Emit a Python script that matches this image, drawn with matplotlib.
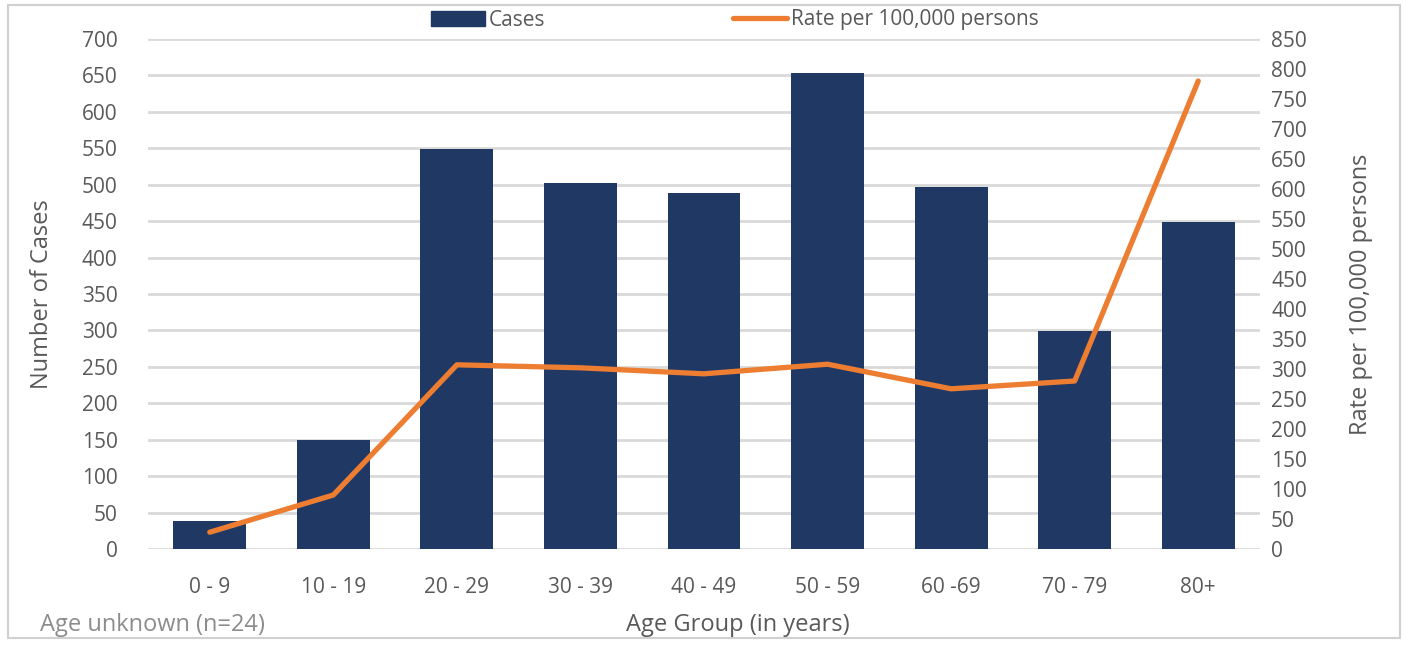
import matplotlib.pyplot as plt
from matplotlib.patches import Rectangle
from matplotlib.lines import Line2D

age_groups = ['0 - 9', '10 - 19', '20 - 29', '30 - 39', '40 - 49',
              '50 - 59', '60 -69', '70 - 79', '80+']
cases = [39, 150, 549, 502, 488, 654, 497, 299, 449]
rate = [28, 90, 307, 302, 292, 308, 267, 280, 780]

BAR = '#203864'
LINE = '#ED7D31'
TXT = '#595959'
GRID = '#D9D9D9'

plt.rcParams['font.family'] = ['Open Sans', 'DejaVu Sans']

fig = plt.figure(figsize=(14.08, 6.45), dpi=100)
ax = fig.add_axes([148 / 1408, 1 - 549 / 645, 1112 / 1408, 510 / 645])
ax2 = ax.twinx()

x = range(len(age_groups))
ax.bar(x, cases, width=0.59, color=BAR, zorder=2)
ax2.plot(x, rate, color=LINE, linewidth=3.8, solid_capstyle='round', zorder=3)

ax.set_xlim(-0.5, len(age_groups) - 0.5)
ax.set_ylim(0, 700)
ax.set_yticks(range(0, 701, 50))
ax2.set_ylim(0, 850)
ax2.set_yticks(range(0, 851, 50))
ax.set_xticks(list(x))
ax.set_xticklabels(age_groups)

ax.yaxis.grid(True, color=GRID, linewidth=2, zorder=0)
ax.set_axisbelow(True)
for a in (ax, ax2):
    for s in a.spines.values():
        s.set_visible(False)
    a.tick_params(length=0, labelsize=15, colors=TXT)
ax.tick_params(axis='x', pad=20)
ax.tick_params(axis='y', pad=22)
ax2.tick_params(axis='y', pad=8)

ax.set_ylabel('Number of Cases', fontsize=17, color=TXT, labelpad=20)
ax2.set_ylabel('Rate per 100,000 persons', fontsize=17, color=TXT, labelpad=30)

fig.text(738 / 1408, 1 - 625 / 645, 'Age Group (in years)', fontsize=17,
         color=TXT, ha='center', va='center')
fig.text(40 / 1408, 1 - 625 / 645, 'Age unknown (n=24)', fontsize=17,
         color='#8C8C8C', ha='left', va='center')

handles = [Rectangle((0, 0), 1, 1, color=BAR),
           Line2D([0], [0], color=LINE, linewidth=3.8, solid_capstyle='round')]
fig.legend(handles, ['Cases', 'Rate per 100,000 persons'], loc='center',
           bbox_to_anchor=(735 / 1408, 1 - 20 / 645), ncol=2, frameon=False,
           fontsize=15, labelcolor=TXT, columnspacing=9, handlelength=2.6,
           handletextpad=0.2)

fig.add_artist(Rectangle((8 / 1408, 1 - 638 / 645), 1392 / 1408, 633 / 645,
                         transform=fig.transFigure, fill=False,
                         edgecolor='#D0D0D0', linewidth=1.5))

fig.savefig('out.png', dpi=100)
